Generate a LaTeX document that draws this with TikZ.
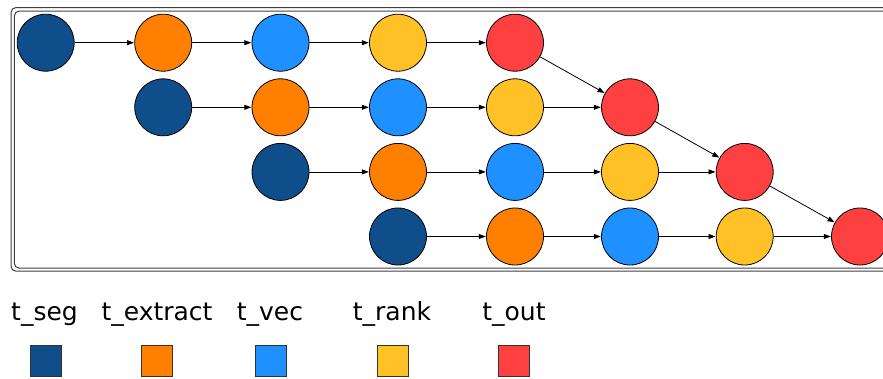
\documentclass[tikz,border=0pt]{standalone}
\usepackage{fontspec}
\setmainfont{DejaVu Sans}
\usetikzlibrary{arrows.meta}
\definecolor{cseg}{HTML}{104E8B}
\definecolor{cextract}{HTML}{FF8000}
\definecolor{cvec}{HTML}{1E90FF}
\definecolor{crank}{HTML}{FFC125}
\definecolor{cout}{HTML}{FF4040}
\tikzset{
  task/.style={circle, draw=black, line width=0.8pt, minimum size=57pt, inner sep=0pt},
  flow/.style={draw=black, line width=0.8pt, -{Triangle[length=7pt,width=5pt]}, shorten >=0.3pt},
  frame/.style={draw=black!75, line width=1pt, rounded corners=5pt},
  swatch/.style={rectangle, draw=black!80, line width=0.8pt, minimum size=31pt, inner sep=0pt},
  legendtext/.style={font=\fontsize{25}{29}\selectfont, inner sep=0pt, anchor=base},
}
\begin{document}
\begin{tikzpicture}[x=1pt, y=-1pt]
\useasboundingbox (0,0) rectangle (883,378);
\clip (0,0) rectangle (883,378);
% double frame around the pipeline
\draw[frame] (11,7.5) rectangle (910,271.2);
\draw[frame] (14.3,11) rectangle (906,268.2);
% column positions of the time slots
\def\colpos{{45.7,163.2,280.5,398,515,630,744.7,860}}
% stage nodes: row r starts at column r
\foreach \r/\ry in {0/42.7,1/107.3,2/171.9,3/236.5}{
  \foreach \s/\c [count=\k from 0] in {seg/cseg,extract/cextract,vec/cvec,rank/crank,out/cout}{
    \pgfmathsetmacro\xx{\colpos[\r+\k]}
    \node[task, fill=\c] (\s\r) at (\xx,\ry) {};
  }
  \draw[flow] (seg\r) -- (extract\r);
  \draw[flow] (extract\r) -- (vec\r);
  \draw[flow] (vec\r) -- (rank\r);
  \draw[flow] (rank\r) -- (out\r);
}
\draw[flow] (out0) -- (out1);
\draw[flow] (out1) -- (out2);
\draw[flow] (out2) -- (out3);
% legend
\foreach \s/\c/\tx/\sx/\lbl in {seg/cseg/44.5/46/t\_seg, extract/cextract/157/157/t\_extract, vec/cvec/270/271/t\_vec, rank/crank/392/393/t\_rank, out/cout/514/514/t\_out}{
  \node[legendtext] (lbl\s) at (\tx,320) {\lbl};
  \node[swatch, fill=\c] (key\s) at (\sx,361) {};
}
\end{tikzpicture}
\end{document}
